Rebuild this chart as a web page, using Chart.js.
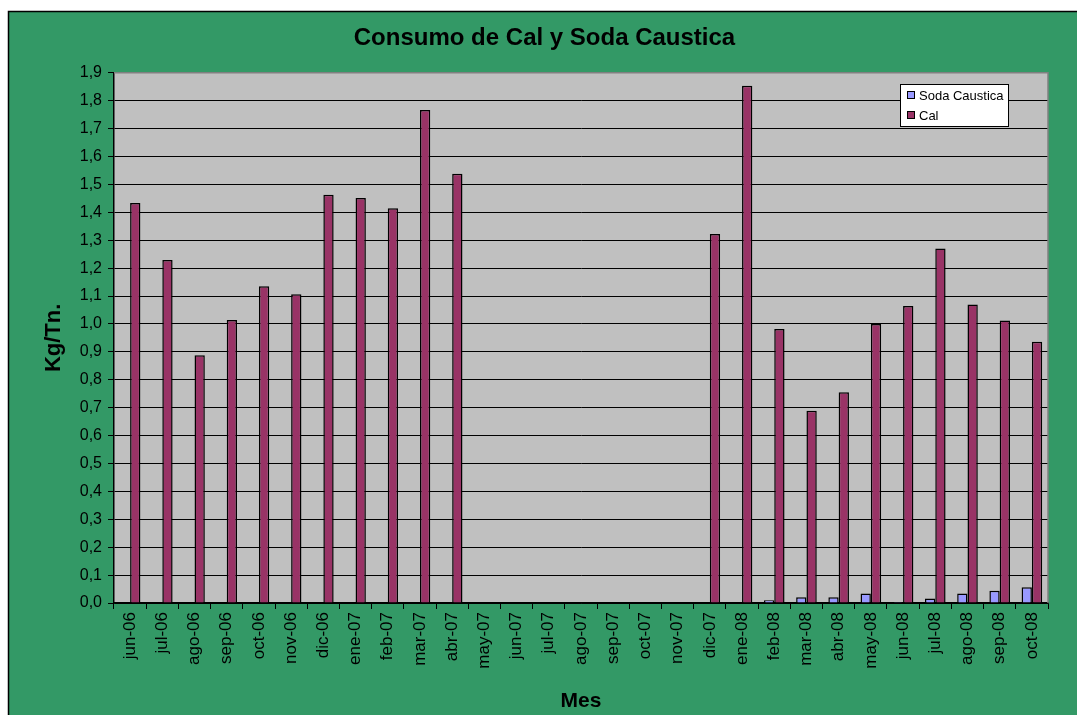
<!DOCTYPE html>
<html>
<head>
<meta charset="utf-8">
<script src="https://cdn.jsdelivr.net/npm/chart.js@4.4.1/dist/chart.umd.min.js"></script>
<style>
  html,body{margin:0;padding:0;background:#fff;}
  #wrap{width:1077px;height:715px;position:relative;}
</style>
</head>
<body>
<div id="wrap"><canvas id="myChart" width="1077" height="715"></canvas></div>
<script>
// meses y consumos (kg/Tn)
var meses=['jun-06','jul-06','ago-06','sep-06','oct-06','nov-06','dic-06','ene-07','feb-07','mar-07','abr-07',
	'may-07','jun-07','jul-07','ago-07','sep-07','oct-07','nov-07','dic-07','ene-08','feb-08','mar-08',
	'abr-08','may-08','jun-08','jul-08','ago-08','sep-08','oct-08'];
var sodaCaustica=[null,null,null,null,null,null,null,null,null,null,null,
	null,null,null,null,null,null,null,null,null,0.01,0.021,
	0.021,0.034,0.004,0.016,0.034,0.044,0.056];
var cal=[1.433,1.229,0.888,1.014,1.135,1.106,1.463,1.451,1.415,1.767,1.538,
	null,null,null,null,null,null,null,1.322,1.854,0.982,0.689,
	0.755,1.0,1.064,1.27,1.07,1.012,0.936];
var yMax=1.9;

var fam="'Liberation Sans', Arial, sans-serif";
var colSoda='#9999FF';
var colCal='#993366';

// fondo verde + area gris del grafico
var fondo={
	id:'fondo',
	beforeDraw:function(chart){
		var c=chart.ctx, a=chart.chartArea;
		c.save();
		c.fillStyle='#339966';
		c.fillRect(8,11,chart.width,chart.height);
		c.strokeStyle='#000';
		c.lineWidth=1.5;
		c.strokeRect(8.5,11.5,chart.width+10,chart.height+10);
		c.fillStyle='#C0C0C0';
		c.fillRect(a.left,a.top,a.right-a.left,a.bottom-a.top);
		c.restore();
	},
	afterDatasetsDraw:function(chart){
		var c=chart.ctx, a=chart.chartArea;
		c.save();
		c.strokeStyle='#808080';
		c.lineWidth=1.5;
		c.beginPath();
		c.moveTo(a.left,a.top);c.lineTo(a.right,a.top);c.lineTo(a.right,a.bottom);
		c.stroke();
		c.restore();
	}
};

// leyenda dentro del area
var leyenda={
	id:'leyenda',
	afterDraw:function(chart){
		var c=chart.ctx;
		var x=900, y=84, w=108, h=42;
		c.save();
		c.fillStyle='#fff';
		c.fillRect(x,y,w,h);
		c.strokeStyle='#000';
		c.lineWidth=1;
		c.strokeRect(x+0.5,y+0.5,w,h);
		var ds=chart.data.datasets;
		c.font='13px '+fam;
		c.textBaseline='middle';
		for(var i=0;i<ds.length;i++){
			var yy=y+11+i*20;
			c.fillStyle=ds[i].backgroundColor;
			c.fillRect(x+7,yy-4,8,8);
			c.strokeStyle='#000';
			c.strokeRect(x+7.5,yy-3.5,7,7);
			c.fillStyle='#000';
			c.fillText(ds[i].label,x+19,yy+1);
		}
		c.restore();
	}
};

var ctx=document.getElementById('myChart').getContext('2d');
var myChart=new Chart(ctx,{
	type:'bar',
	data:{
		labels:meses,
		datasets:[{
			label:'Soda Caustica',
			data:sodaCaustica,
			backgroundColor:colSoda,
			borderColor:'#000',
			borderWidth:1.5
		},{
			label:'Cal',
			data:cal,
			backgroundColor:colCal,
			borderColor:'#000',
			borderWidth:1.5
		}]
	},
	options:{
		responsive:false,
		animation:false,
		layout:{padding:{left:41,right:29,top:0,bottom:0}},
		datasets:{bar:{barPercentage:1,categoryPercentage:0.64}},
		plugins:{
			legend:{display:false},
			tooltip:{enabled:false},
			title:{
				display:true,
				text:'Consumo de Cal y Soda Caustica',
				color:'#000',
				font:{family:fam,size:24,weight:'bold'},
				padding:{top:24,bottom:20}
			}
		},
		scales:{
			x:{
				grid:{drawOnChartArea:false,offset:true,color:'#000',tickLength:6,lineWidth:1},
				border:{color:'#000',width:1.5},
				ticks:{color:'#000',font:{family:fam,size:17},minRotation:90,maxRotation:90,padding:3,autoSkip:false},
				title:{display:true,text:'Mes',color:'#000',font:{family:fam,size:21,weight:'bold'},padding:{top:0,bottom:1}},
				afterFit:function(s){s.height=112;}
			},
			y:{
				min:0,
				max:yMax,
				grid:{color:'#000',tickLength:6,lineWidth:1},
				border:{color:'#000',width:1.5},
				ticks:{
					stepSize:0.1,
					color:'#000',
					font:{family:fam,size:16},
					padding:6,
					callback:function(v){return v.toFixed(1).replace('.',',');}
				},
				title:{display:true,text:'Kg/Tn.',color:'#000',font:{family:fam,size:22,weight:'bold'},padding:{top:0,bottom:6}},
				afterFit:function(s){s.width=73;}
			}
		}
	},
	plugins:[fondo,leyenda]
});
</script>
</body>
</html>
